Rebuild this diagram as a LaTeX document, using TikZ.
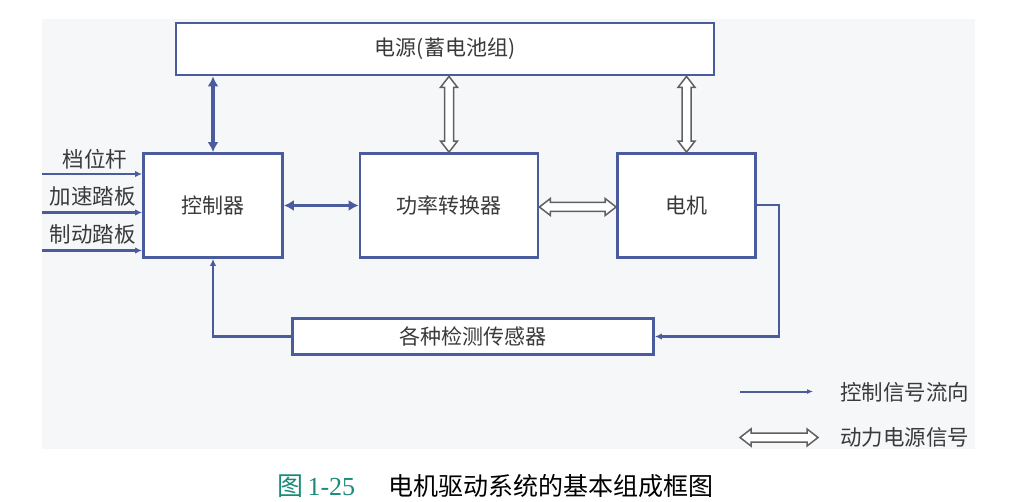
\documentclass[tikz,border=0pt]{standalone}
\usepackage{fontspec}
\setmainfont{Liberation Serif}
\newfontfamily\cjk{Noto Sans CJK SC}
\usetikzlibrary{arrows.meta,calc}
\definecolor{lineblue}{HTML}{4A5C9E}
\definecolor{txt}{HTML}{3A3A3A}
\definecolor{hollow}{HTML}{606060}
\definecolor{panel}{HTML}{F6F7F9}
\definecolor{capgreen}{HTML}{1B8A78}
\tikzset{
  blk/.style={draw=lineblue, line width=2.8pt, fill=white, text=txt, font=\cjk\fontsize{21}{24}\selectfont, inner sep=0pt},
  thickarr/.style={draw=lineblue, line width=3.8pt, {Latex[length=10pt,width=11pt]}-{Latex[length=10pt,width=11pt]}},
  sigline/.style={draw=lineblue, line width=2.6pt, -{Latex[length=7pt,width=6.5pt]}},
  hollowshape/.style={draw=hollow, line width=1.5pt, fill=white, line join=miter},
  lbl/.style={text=txt, font=\cjk\fontsize{21.5}{24}\selectfont, inner sep=0pt}
}
% hollow double-headed arrow between two points
\newcommand{\hollowarrow}[2]{%
  \draw[hollowshape] let \p1=(#1), \p2=(#2),
     \n1={atan2(\y2-\y1,\x2-\x1)}, \n2={veclen(\x2-\x1,\y2-\y1)} in
     [shift={(\x1,\y1)}, rotate=\n1]
     (0,0) -- (11,8.5) -- (11,4.5) -- ({\n2-11},4.5) -- ({\n2-11},8.5) -- ({\n2},0)
     -- ({\n2-11},-8.5) -- ({\n2-11},-4.5) -- (11,-4.5) -- (11,-8.5) -- cycle;}
\begin{document}
\begin{tikzpicture}[x=1pt,y=-1pt]
\useasboundingbox (0,0) rectangle (1016,502);
\fill[white] (0,0) rectangle (1016,502);
\fill[panel] (42,19) rectangle (975,449);
% blocks
\node[blk, minimum width=538pt, minimum height=52pt] (power) at (445,49) {电源(蓄电池组)};
\node[blk, minimum width=139pt, minimum height=104pt] (ctrl) at (213,205.5) {控制器};
\node[blk, minimum width=178pt, minimum height=104pt] (conv) at (449,205.5) {功率转换器};
\node[blk, minimum width=138pt, minimum height=104pt] (motor) at (686.5,205.5) {电机};
\node[blk, minimum width=361pt, minimum height=36pt] (sensor) at (473,336.5) {各种检测传感器};
% power links
\draw[thickarr] (ctrl.north) -- (ctrl.north |- power.south);
\hollowarrow{conv.north}{conv.north |- power.south}
\hollowarrow{motor.north}{motor.north |- power.south}
\draw[thickarr] (ctrl.east) -- (conv.west);
\coordinate (cvr) at ($(conv.east)+(0,1.5)$);
\hollowarrow{cvr}{cvr -| motor.west}
% inputs
\coordinate (in1) at (42,174);
\coordinate (in2) at (42,212.5);
\coordinate (in3) at (42,250.5);
\draw[sigline] (in1) -- (in1 -| ctrl.west);
\draw[sigline] (in2) -- (in2 -| ctrl.west);
\draw[sigline] (in3) -- (in3 -| ctrl.west);
\node[lbl] (l1) at (95,159) {档位杆};
\node[lbl] (l2) at (92.5,196) {加速踏板};
\node[lbl] (l3) at (92.5,234) {制动踏板};
% feedback
\coordinate (mo) at ($(motor.east)+(0,-0.5)$);
\coordinate (corner) at (779,205);
\draw[sigline] (mo) -- (corner) |- (sensor.east);
\draw[sigline] (sensor.west) -| (ctrl.south);
% legend
\coordinate (lg1a) at (740,391.5);
\coordinate (lg1b) at (813,391.5);
\draw[draw=lineblue, line width=2pt, -{Latex[length=6pt,width=5pt]}] (lg1a) -- (lg1b);
\node[lbl, anchor=west] (lt1) at (840,392) {控制信号流向};
\coordinate (lg2a) at (740,437.5);
\coordinate (lg2b) at (818,437.5);
\hollowarrow{lg2a}{lg2b}
\node[lbl, anchor=west] (lt2) at (840,437.5) {动力电源信号};
% caption
\node[anchor=west, inner sep=0pt, text=capgreen, font=\fontsize{26}{30}\selectfont] (capn) at (277,486) {{\cjk 图}\,1-25};
\node[anchor=west, inner sep=0pt, text=black, font=\cjk\fontsize{25}{30}\selectfont] (capt) at (388,486) {电机驱动系统的基本组成框图};
\end{tikzpicture}
\end{document}
